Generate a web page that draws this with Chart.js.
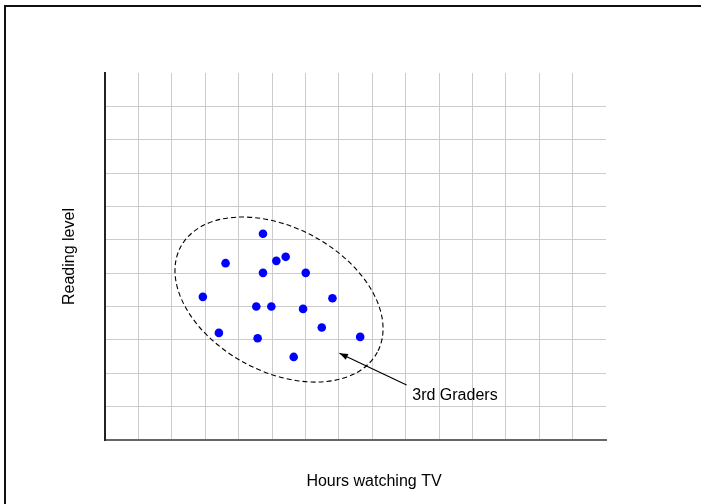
<!DOCTYPE html>
<html>
<head>
<meta charset="utf-8">
<script src="https://cdn.jsdelivr.net/npm/chart.js@4/dist/chart.umd.min.js"></script>
<style>
  html, body { margin: 0; padding: 0; background: #fff; }
  #wrap { width: 701px; height: 504px; position: relative; }
</style>
</head>
<body>
<div id="wrap"><canvas id="chart" width="701" height="504"></canvas></div>
<script>
// hours watching TV (x) and reading level (y) for each 3rd grader
const hoursTV = [4.73, 3.61, 5.13, 5.41, 4.73, 6.01, 2.93, 6.81, 4.53, 4.98, 5.93, 6.49, 3.41, 4.57, 7.64, 5.65];
const readingLevel = [6.18, 5.30, 5.37, 5.49, 5.01, 5.01, 4.29, 4.25, 4.00, 4.00, 3.93, 3.37, 3.21, 3.05, 3.09, 2.49];

const xTitle = 'Hours watching TV';
const yTitle = 'Reading level';
const groupLabel = '3rd Graders';

// annotation geometry in data units
const ellipse = { cx: 5.21, cy: 4.21, rx: 3.34, ry: 2.16, angleDeg: 28.2 };
const arrow = { fromX: 9.03, fromY: 1.65, toX: 7.02, toY: 2.60 };
const labelPos = { x: 9.2, y: 1.33 };

const FONT = '16px "Liberation Sans", Arial, sans-serif';

const points = hoursTV.map((h, i) => ({ x: h, y: readingLevel[i] }));

const decorPlugin = {
    id: 'decor',
    beforeDraw: (chart) => {
        const ctx = chart.ctx;
        ctx.save();
        // figure frame (top + left edges visible)
        ctx.strokeStyle = '#111';
        ctx.lineWidth = 2;
        ctx.beginPath();
        ctx.moveTo(5, 504);
        ctx.lineTo(5, 6);
        ctx.lineTo(701, 6);
        ctx.stroke();
        ctx.restore();
    },
    afterDraw: (chart) => {
        const ctx = chart.ctx;
        const xs = chart.scales.x;
        const ys = chart.scales.y;
        const area = chart.chartArea;
        ctx.save();

        // dashed ellipse around the group
        const cx = xs.getPixelForValue(ellipse.cx);
        const cy = ys.getPixelForValue(ellipse.cy);
        const rx = xs.getPixelForValue(ellipse.rx) - xs.getPixelForValue(0);
        const ry = ys.getPixelForValue(0) - ys.getPixelForValue(ellipse.ry);
        ctx.strokeStyle = '#000';
        ctx.lineWidth = 1.1;
        ctx.setLineDash([5, 3]);
        ctx.beginPath();
        ctx.ellipse(cx, cy, rx, ry, ellipse.angleDeg * Math.PI / 180, 0, Math.PI * 2);
        ctx.stroke();
        ctx.setLineDash([]);

        // arrow
        const x1 = xs.getPixelForValue(arrow.fromX), y1 = ys.getPixelForValue(arrow.fromY);
        const x2 = xs.getPixelForValue(arrow.toX), y2 = ys.getPixelForValue(arrow.toY);
        ctx.lineWidth = 1.2;
        ctx.beginPath();
        ctx.moveTo(x1, y1);
        ctx.lineTo(x2, y2);
        ctx.stroke();
        const ang = Math.atan2(y2 - y1, x2 - x1);
        const head = 9, spread = 0.35;
        ctx.fillStyle = '#000';
        ctx.beginPath();
        ctx.moveTo(x2, y2);
        ctx.lineTo(x2 - head * Math.cos(ang - spread), y2 - head * Math.sin(ang - spread));
        ctx.lineTo(x2 - head * Math.cos(ang + spread), y2 - head * Math.sin(ang + spread));
        ctx.closePath();
        ctx.fill();

        // texts
        ctx.font = FONT;
        ctx.fillStyle = '#000';
        ctx.textBaseline = 'middle';
        ctx.textAlign = 'left';
        ctx.fillText(groupLabel, xs.getPixelForValue(labelPos.x), ys.getPixelForValue(labelPos.y));

        ctx.textAlign = 'center';
        ctx.fillText(xTitle, 374, 482);

        ctx.translate(70, (area.top + area.bottom) / 2);
        ctx.rotate(-Math.PI / 2);
        ctx.fillText(yTitle, 0, 0);
        ctx.restore();
    }
};

new Chart(document.getElementById('chart').getContext('2d'), {
    type: 'scatter',
    data: {
        datasets: [{
            label: groupLabel,
            data: points,
            backgroundColor: '#0000ff',
            borderWidth: 0,
            pointRadius: 4.3,
            pointHoverRadius: 4.3
        }]
    },
    options: {
        responsive: false,
        animation: false,
        layout: {
            padding: { left: 105, right: 95, top: 73, bottom: 64 }
        },
        plugins: {
            legend: { display: false },
            tooltip: { enabled: false }
        },
        scales: {
            x: {
                type: 'linear',
                min: 0,
                max: 15,
                ticks: { display: false, stepSize: 1 },
                grid: {
                    drawTicks: false,
                    color: (c) => c.tick && c.tick.value === 15 ? 'rgba(0,0,0,0)' : '#cccccc',
                    lineWidth: 1
                },
                border: { display: true, color: '#666', width: 2 }
            },
            y: {
                type: 'linear',
                min: 0,
                max: 11,
                ticks: { display: false, stepSize: 1 },
                grid: {
                    drawTicks: false,
                    color: (c) => c.tick && c.tick.value === 11 ? 'rgba(0,0,0,0)' : '#cccccc',
                    lineWidth: 1
                },
                border: { display: true, color: '#222', width: 2 }
            }
        }
    },
    plugins: [decorPlugin]
});
</script>
</body>
</html>
